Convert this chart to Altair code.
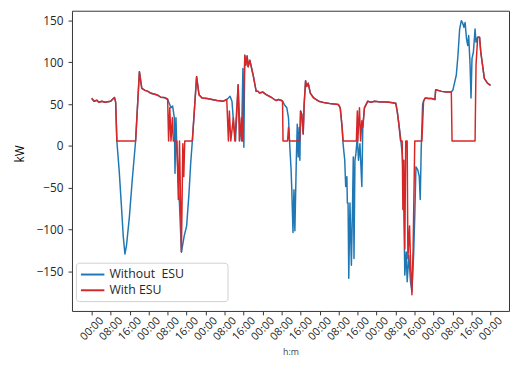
import altair as alt
import pandas as pd

# ---- data (hours since start, kW) ----
series_names = ["Without\u00a0 ESU", "With ESU"]
series_colors = ["#1f77b4", "#d62728"]

with_hours = [
    0.0, 1.0, 2.2, 3.0, 4.3, 5.5, 6.8, 8.0, 8.8, 9.6, 10.1, 10.6, 18.5, 20.1, 21.1, 22.5,
    23.7, 25.0, 26.6, 27.9, 29.1, 30.4, 31.2, 32.0, 32.4, 32.9, 33.4, 34.0, 34.4, 35.9,
    36.5, 37.0, 37.8, 38.4, 38.8, 39.2, 42.4, 44.2, 45.2, 46.5, 48.6, 50.7, 52.8, 55.5,
    56.9, 57.6, 58.0, 58.6, 59.7, 60.3, 61.7, 62.2, 63.1, 63.5, 64.5, 64.9, 65.5, 65.9,
    66.6, 68.0, 69.3, 70.0, 70.7, 72.1, 73.5, 75.6, 77.6, 78.7, 79.7, 80.4, 80.6, 82.5,
    82.9, 83.3, 87.6, 88.0, 88.5, 89.1, 89.5, 90.1, 90.6, 91.2, 92.1, 93.5, 95.6, 98.3,
    101.1, 103.9, 104.7, 105.5, 105.9, 111.5, 111.9, 112.1, 112.8, 113.3, 113.8, 114.2,
    114.9, 116.3, 117.7, 119.1, 121.8, 124.6, 126.0, 128.1, 128.7, 129.4, 130.1, 130.8,
    131.1, 131.5, 131.9, 132.3, 132.9, 133.2, 133.9, 134.4, 134.9, 135.4, 136.1, 139.1,
    139.8, 140.5, 141.9, 143.2, 144.6, 144.9, 147.4, 149.4, 151.5, 151.8, 161.5, 161.9,
    162.6, 163.4, 163.9, 165.4, 166.7, 168.0,
]
with_kw = [
    57.0, 53.5, 54.6, 52.3, 53.5, 52.3, 52.9, 53.5, 55.8, 58.0, 52.3, 6.0, 6.0, 88.7, 68.7, 66.4,
    65.2, 62.9, 61.7, 60.5, 58.2, 58.0, 57.0, 55.8, 6.0, 45.6, 6.0, 33.8, 6.0, 6.0,
    -64.0, 6.0, -126.7, 2.6, -36.6, 6.0, 6.0, 82.8, 61.3, 57.3, 56.6, 55.5, 54.3, 53.5,
    55.5, 6.0, 41.7, 6.0, 33.8, 6.0, 73.1, 6.0, 33.8, 6.0, 108.3, 96.6, 107.5, 94.6,
    102.5, 84.8, 65.2, 65.5, 63.2, 64.4, 61.3, 58.2, 54.3, 55.5, 54.6, 53.5, 6.0, 6.0,
    22.1, 6.0, 6.0, 41.7, 37.8, 14.3, 49.6, 77.8, 71.1, 75.0, 63.2, 57.3, 53.5, 51.5,
    50.3, 49.6, 45.6, 22.1, 6.0, 6.0, 41.7, 6.0, 45.6, 6.0, 30.0, 22.1,
    45.6, 53.5, 52.3, 53.5, 52.6, 52.6, 52.0, 51.0, 41.7, 26.1, 6.0, 6.0,
    -75.8, -17.0, -123.0, 6.0, 6.0, -134.5, -95.4, -146.3, -177.7, -122.8, 6.0, 6.0,
    53.5, 57.3, 56.6, 56.6, 55.5, 67.2, 65.2, 64.4, 64.4, 6.0, 6.0, 96.6,
    129.8, 129.8, 112.2, 80.8, 75.0, 72.3,
]

without_hours = [
    0.0, 1.0, 2.2, 3.0, 4.3, 5.5, 6.8, 8.0, 8.8, 9.6, 10.1, 10.6, 11.6, 12.6, 13.3, 14.0,
    14.7, 15.9, 17.1, 18.5, 20.1, 21.1, 22.5, 23.7, 25.0, 26.6, 27.9, 29.1, 30.4, 31.2,
    32.0, 33.4, 34.1, 34.8, 35.1, 35.5, 35.9, 36.9, 37.8, 39.0, 40.0, 41.0, 41.7, 42.4,
    44.2, 45.2, 46.5, 48.6, 50.7, 52.8, 55.5, 56.9, 57.6, 58.3, 59.1, 59.9, 60.6, 61.7,
    62.4, 63.1, 63.7, 64.1, 64.5, 64.9, 65.5, 65.9, 66.6, 68.0, 69.3, 70.0, 70.7, 72.1,
    73.5, 75.6, 77.6, 78.7, 79.7, 80.4, 81.1, 82.2, 82.9, 83.4, 84.0, 84.3, 84.8, 85.2,
    85.6, 86.2, 86.6, 87.0, 87.4, 87.7, 88.0, 88.5, 89.1, 89.5, 90.1, 90.6, 91.2, 92.1,
    93.5, 95.6, 98.3, 101.1, 103.9, 104.7, 105.5, 105.9, 106.6, 107.0, 107.5, 107.7,
    108.0, 108.3, 108.8, 109.4, 109.9, 110.2, 110.5, 110.9, 111.3, 111.9, 112.4, 113.0,
    113.8, 114.2, 114.9, 116.3, 117.7, 119.1, 121.8, 124.6, 126.0, 128.1, 128.7, 129.4,
    130.1, 130.8, 131.1, 131.5, 131.9, 132.5, 132.9, 133.6, 134.3, 134.9, 135.6, 136.1,
    136.6, 137.4, 138.0, 138.4, 138.8, 139.4, 139.8, 140.5, 141.9, 143.2, 144.6, 144.9,
    147.4, 149.4, 151.5, 152.2, 153.6, 154.3, 155.0, 155.7, 156.2, 156.8, 157.3, 157.9,
    158.4, 158.8, 159.4, 159.8, 160.2, 160.8, 161.5, 161.9, 162.6, 163.4, 163.9, 165.4,
    166.7, 168.0,
]
without_kw = [
    57.0, 53.5, 54.6, 52.3, 53.5, 52.3, 52.9, 53.5, 55.8, 58.0, 52.3, 6.0, -30.0, -75.0, -108.0, -129.0,
    -118.0, -84.0, -40.0, 6.0, 88.7, 68.7, 66.4, 65.2, 62.9, 61.7, 60.5, 58.2, 58.0, 57.0,
    55.8, 45.6, 47.6, 33.8, -32.7, 33.8, -5.3, -64.0, -126.7, -107.0, -95.4, -56.2, -21.0, 6.0,
    82.8, 61.3, 57.3, 56.6, 55.5, 54.3, 53.5, 55.5, 57.3, 59.3, 53.5, 22.1, 6.0, 73.1,
    22.1, 6.0, 92.6, -1.4, 108.3, 96.6, 107.5, 94.6, 102.5, 84.8, 65.2, 65.5, 63.2, 64.4,
    61.3, 58.2, 54.3, 55.5, 54.6, 53.5, 49.6, 45.6, 33.8, 2.6, -28.8, -52.3, -103.2, -52.3,
    -101.3, -17.0, 26.1, -13.2, 22.1, -17.0, 41.7, 37.8, 14.3, 49.6, 77.8, 71.1, 75.0, 63.2,
    57.3, 53.5, 51.5, 50.3, 49.6, 45.6, 22.1, 2.6, -17.0, -48.4, -36.6, -68.0,
    -68.0, -158.0, -68.0, -142.4, -68.0, -13.2, -134.5, -17.0, -9.2, 10.3, -17.0, 2.6,
    -48.4, 22.1, 45.6, 53.5, 52.3, 53.5, 52.6, 52.6, 52.0, 51.0, 41.7, 26.1,
    10.3, -9.2, -24.9, -75.8, -154.2, -126.7, -162.0, -130.7, -162.0, -173.7, -130.7, -83.7,
    -24.9, -28.8, -36.6, -64.0, -5.3, 49.6, 53.5, 57.3, 56.6, 56.6, 55.5, 67.2,
    65.2, 64.4, 64.4, 67.2, 84.8, 108.3, 139.6, 149.5, 147.5, 141.6, 147.5, 127.8,
    120.1, 131.8, 96.6, 57.3, 104.3, 112.2, 139.6, 124.0, 129.8, 129.8, 112.2, 80.8,
    75.0, 72.3,
]

x_ticks = [0, 8, 16, 24, 32, 40, 48, 56, 64, 72, 80, 88, 96, 104, 112, 120, 128, 136,
           144, 152, 160, 168]
y_ticks = [-150, -100, -50, 0, 50, 100, 150]

df_without = pd.DataFrame({"h": without_hours, "kw": without_kw, "series": series_names[0]})
df_with = pd.DataFrame({"h": with_hours, "kw": with_kw, "series": series_names[1]})

FONT = "Open Sans"
TXT = "#262626"

x_enc = alt.X(
    "h:Q",
    scale=alt.Scale(domain=[-8.3, 175.8], nice=False, zero=False),
    axis=alt.Axis(
        values=x_ticks,
        labelExpr="(datum.value % 24 < 10 ? '0' : '') + (datum.value % 24) + ':00'",
        labelAngle=-45, labelAlign="center", labelBaseline="middle",
        labelPadding=14, tickSize=4, labelFontSize=11, labelOverlap=False,
        labelBound=False, labelFlush=False,
        title="h:m", titleFontSize=9, titleFontWeight="normal", titlePadding=6,
        titleColor="#444",
    ),
)
y_enc = alt.Y(
    "kw:Q",
    scale=alt.Scale(domain=[-197, 161.5], nice=False, zero=False),
    axis=alt.Axis(
        values=y_ticks, tickSize=4, labelPadding=5, labelFontSize=12,
        title="kW", titleFontSize=12, titleFontWeight="normal", titlePadding=10,
        titleY=145, labelOverlap=False,
    ),
)
color_enc = alt.Color(
    "series:N",
    scale=alt.Scale(domain=series_names, range=series_colors),
    legend=alt.Legend(
        title=None, orient="none", legendX=4, legendY=256,
        symbolType="M-1.7,0H1.7", symbolSize=196, symbolStrokeWidth=2,
        symbolOffset=5,
        labelFont=FONT, labelFontSize=12.5, labelColor=TXT, labelOffset=9,
        padding=4, rowPadding=1, strokeColor="#d0d0d0", fillColor="white",
        cornerRadius=3,
        labelExpr="datum.label + '\u2800\u2800\u2800\u2800'",
    ),
)

line_style = dict(strokeWidth=1.5, clip=True, strokeJoin="round")

blue = alt.Chart(df_without).mark_line(**line_style).encode(x=x_enc, y=y_enc, color=color_enc)
red = alt.Chart(df_with).mark_line(**line_style).encode(x=x_enc, y=y_enc, color=color_enc)

chart = (
    alt.layer(blue, red)
    .properties(
        width=444, height=305,
        autosize=alt.AutoSizeParams(type="none"),
        padding={"left": 65, "top": 0, "right": 1, "bottom": 44},
    )
    .configure_axis(
        labelFont=FONT, titleFont=FONT, labelColor=TXT, tickColor="#333",
        grid=False, domain=False,
    )
    .configure_view(stroke="#333", strokeWidth=1)
)

chart.save("out.html", embed_options={"renderer": "svg", "actions": False})
